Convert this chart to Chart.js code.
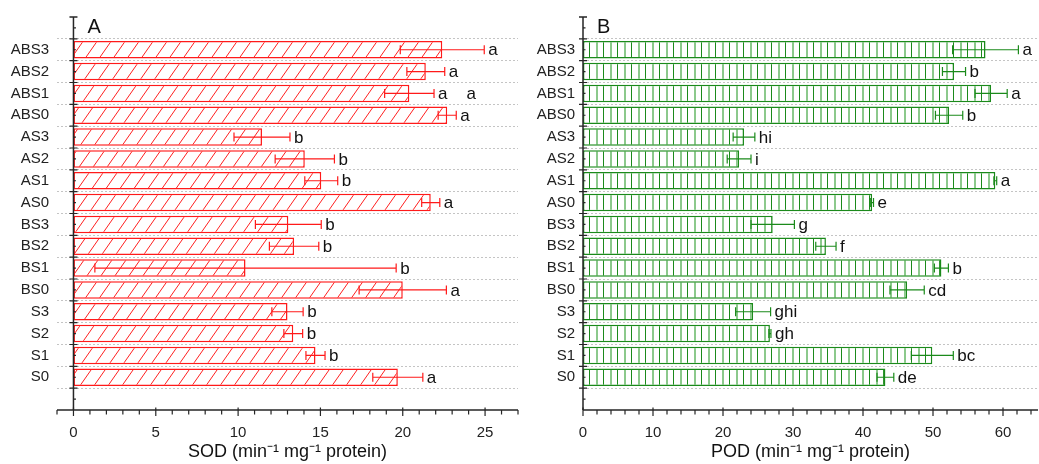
<!DOCTYPE html>
<html>
<head>
<meta charset="utf-8">
<script src="https://cdn.jsdelivr.net/npm/chart.js@4.4.0/dist/chart.umd.min.js"></script>
<style>
  body { margin: 0; background: #fff; }
  .panel { position: absolute; top: 0; }
</style>
</head>
<body>
<div class="panel" style="left:0"><canvas id="sodChart" width="520" height="464"></canvas></div>
<div class="panel" style="left:520px"><canvas id="podChart" width="519" height="464"></canvas></div>
<script>
// treatments, top to bottom ('' = empty slot at both ends of the axis)
var categories = ['', 'ABS3', 'ABS2', 'ABS1', 'ABS0', 'AS3', 'AS2', 'AS1', 'AS0',
                  'BS3', 'BS2', 'BS1', 'BS0', 'S3', 'S2', 'S1', 'S0', ''];

var sodValues  = [null, 22.4, 21.4, 20.4, 22.7, 11.45, 14.05, 15.05, 21.7, 13.05, 13.4, 10.45, 20.0, 13.0, 13.35, 14.7, 19.7, null];
var sodErrors  = [null, 2.55, 1.15, 1.5, 0.55, 1.7, 1.8, 1.0, 0.55, 2.0, 1.5, 9.15, 2.65, 0.95, 0.57, 0.58, 1.52, null];
var sodLetters = ['', 'a', 'a', 'a    a', 'a', 'b', 'b', 'b', 'a', 'b', 'b', 'b', 'a', 'b', 'b', 'b', 'a', ''];

var podValues  = [null, 57.5, 53.0, 58.3, 52.3, 23.0, 22.3, 58.9, 41.3, 27.1, 34.7, 51.2, 46.3, 24.3, 26.7, 49.9, 43.2, null];
var podErrors  = [null, 4.7, 1.65, 2.3, 1.95, 1.55, 1.7, 0.2, 0.2, 3.1, 1.45, 1.0, 2.45, 2.5, 0.15, 3.0, 1.2, null];
var podLetters = ['', 'a', 'b', 'a', 'b', 'hi', 'i', 'a', 'e', 'g', 'f', 'b', 'cd', 'ghi', 'gh', 'bc', 'de', ''];

var sodTicks = { min: -1, max: 27, major: 5, minor: 1 };
var podTicks = { min: 0, max: 65, major: 10, minor: 2 };

var FONT = "'Liberation Sans', Arial, sans-serif";
var AXIS_COLOR = '#262626';

function hatchPattern(color) {
    var c = document.createElement('canvas');
    c.width = 14; c.height = 20;
    var g = c.getContext('2d');
    g.fillStyle = '#fff';
    g.fillRect(0, 0, 14, 20);
    g.strokeStyle = color;
    g.lineWidth = 1;
    for (var k = -1; k <= 1; k++) {
        g.beginPath();
        g.moveTo(k * 14, 20);
        g.lineTo(k * 14 + 14, 0);
        g.stroke();
    }
    return g.createPattern(c, 'repeat');
}

function stripePattern(dark, light) {
    var c = document.createElement('canvas');
    c.width = 14; c.height = 4;
    var g = c.getContext('2d');
    g.fillStyle = '#fff';
    g.fillRect(0, 0, 14, 4);
    g.fillStyle = light;
    g.fillRect(6, 0, 2, 4);
    g.fillStyle = dark;
    g.fillRect(13, 0, 1, 4);
    return g.createPattern(c, 'repeat');
}

// axis lines, major/minor ticks, error bars, letters and panel tag
function decorPlugin(opts) {
    return {
        id: 'decor',
        afterDatasetsDraw: function(chart) {
            var ctx = chart.ctx;
            var xs = chart.scales.x, ys = chart.scales.y;
            var area = chart.chartArea;
            var x0 = xs.getPixelForValue(0);
            ctx.save();

            // error bars + letters
            ctx.strokeStyle = opts.errColor;
            ctx.lineWidth = 1.2;
            ctx.fillStyle = '#111';
            ctx.font = '17px ' + FONT;
            ctx.textBaseline = 'middle';
            ctx.textAlign = 'left';
            opts.values.forEach(function(v, i) {
                if (v === null) return;
                var y = ys.getPixelForValue(i);
                var e = opts.errors[i];
                var xl = xs.getPixelForValue(v - e), xr = xs.getPixelForValue(v + e);
                ctx.beginPath();
                ctx.moveTo(xl, y); ctx.lineTo(xr, y);
                ctx.moveTo(xl, y - 4.5); ctx.lineTo(xl, y + 4.5);
                ctx.moveTo(xr, y - 4.5); ctx.lineTo(xr, y + 4.5);
                ctx.stroke();
                ctx.fillText(opts.letters[i], xr + 4, y + 1);
            });

            // axes
            ctx.strokeStyle = AXIS_COLOR;
            ctx.lineWidth = 1.5;
            ctx.beginPath();
            ctx.moveTo(x0, area.top); ctx.lineTo(x0, area.bottom);
            ctx.moveTo(area.left, area.bottom); ctx.lineTo(area.right, area.bottom);
            ctx.moveTo(x0 - 4, area.top); ctx.lineTo(x0 + 4, area.top);
            ctx.stroke();

            ctx.lineWidth = 1.2;
            ctx.beginPath();
            var n = chart.data.labels.length;
            var step = ys.getPixelForValue(1) - ys.getPixelForValue(0);
            for (var i = 0; i < n; i++) {
                var yc = ys.getPixelForValue(i);
                var yb = yc + step / 2;
                if (i < n - 1) {
                    ctx.moveTo(x0 - 4, yb); ctx.lineTo(x0 + 4, yb);
                }
                ctx.moveTo(x0, yc); ctx.lineTo(x0 + 2.5, yc);
            }
            var t = opts.ticks;
            for (var v = t.min; v <= t.max + 1e-9; v += t.minor) {
                var px = xs.getPixelForValue(v);
                var isMajor = Math.abs(v / t.major - Math.round(v / t.major)) < 1e-6;
                if (isMajor) {
                    ctx.moveTo(px, area.bottom - 2.5); ctx.lineTo(px, area.bottom + 6);
                } else {
                    ctx.moveTo(px, area.bottom); ctx.lineTo(px, area.bottom + 4.5);
                }
            }
            ctx.stroke();

            // panel tag
            ctx.fillStyle = '#111';
            ctx.font = '20px ' + FONT;
            ctx.textBaseline = 'middle';
            ctx.fillText(opts.tag, x0 + 14, area.top + 10);
            ctx.restore();
        }
    };
}

function makeChart(id, values, errors, letters, ticks, color, fill, title, tag, yWidth, padRight) {
    var ctx = document.getElementById(id).getContext('2d');
    return new Chart(ctx, {
        type: 'bar',
        data: {
            labels: categories,
            datasets: [{
                data: values,
                backgroundColor: fill,
                borderColor: color,
                borderWidth: 1.5,
                borderSkipped: false,
                categoryPercentage: 0.8,
                barPercentage: 1
            }]
        },
        options: {
            indexAxis: 'y',
            responsive: false,
            animation: false,
            layout: { padding: { top: 15, right: padRight, left: 0, bottom: 0 } },
            plugins: { legend: { display: false }, tooltip: { enabled: false } },
            scales: {
                x: {
                    type: 'linear',
                    min: ticks.min,
                    max: ticks.max,
                    afterBuildTicks: function(scale) {
                        var out = [];
                        for (var v = 0; v <= ticks.max; v += ticks.major) out.push({ value: v });
                        scale.ticks = out;
                    },
                    grid: { display: false },
                    border: { display: false },
                    ticks: {
                        color: '#222',
                        font: { family: FONT, size: 15 },
                        padding: 6,
                        maxRotation: 0
                    },
                    title: {
                        display: true,
                        text: title,
                        color: '#111',
                        font: { family: FONT, size: 18 },
                        padding: { top: 0, bottom: 1 }
                    },
                    afterFit: function(scale) { scale.height = 54; }
                },
                y: {
                    type: 'category',
                    offset: true,
                    grid: {
                        offset: true,
                        drawTicks: false,
                        color: function(c) {
                            return (c.index === undefined || c.index === 0) ? 'rgba(0,0,0,0)' : '#c4c4c4';
                        },
                        lineWidth: 1
                    },
                    border: { display: false, dash: [2, 2] },
                    ticks: {
                        color: '#222',
                        font: { family: FONT, size: 15 },
                        padding: 8,
                        autoSkip: false
                    },
                    afterFit: function(scale) { scale.width = yWidth; }
                }
            }
        },
        plugins: [decorPlugin({
            values: values, errors: errors, letters: letters, ticks: ticks,
            errColor: color, tag: tag
        })]
    });
}

window.onload = function() {
    makeChart('sodChart', sodValues, sodErrors, sodLetters, sodTicks, '#ff1a1a',
        hatchPattern('#ff2020'), 'SOD (min\u207B\u00B9 mg\u207B\u00B9 protein)', 'A', 57, 2);
    makeChart('podChart', podValues, podErrors, podLetters, podTicks, '#1b8a1b',
        stripePattern('#1b8a1b', '#8cc98c'), 'POD (min\u207B\u00B9 mg\u207B\u00B9 protein)', 'B', 63, 1);
};
</script>
</body>
</html>
